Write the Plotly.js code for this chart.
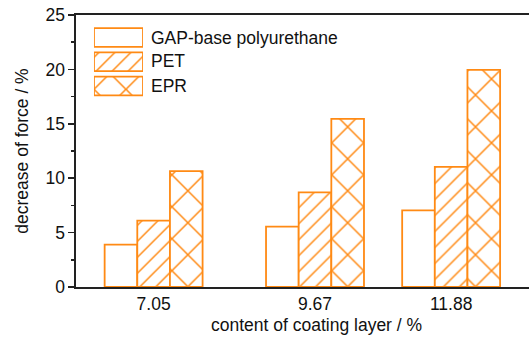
<!DOCTYPE html>
<html>
<head>
<meta charset="utf-8">
<script src="https://cdn.plot.ly/plotly-3.0.1.min.js"></script>
<style>
  html, body { margin: 0; padding: 0; background: #fff; overflow: hidden; }
  #chart { width: 529px; height: 340px; }
</style>
</head>
<body>
<div id="chart"></div>
<script>
// ---- data ----
const categories = [7.05, 9.67, 11.88];
const tickLabels = ['7.05', '9.67', '11.88'];
const seriesNames = ['GAP-base polyurethane', 'PET', 'EPR'];
const gapValues = [3.9, 5.55, 7.05];
const petValues = [6.1, 8.7, 11.05];
const eprValues = [10.65, 15.45, 19.95];
const yTickVals = [0, 5, 10, 15, 20, 25];

// ---- styling ----
const ORANGE = '#ff8a14';
const FONT = "'Liberation Sans', Arial, sans-serif";
const FS = 17.5;
const TXT = '#111111';
const seriesValues = [gapValues, petValues, eprValues];
const patternShapes = ['', '/', 'x'];
const patternSizes = [8, 11.3, 22.6];
const barW = 0.53;
const offsets = [-1.5 * barW, -0.5 * barW, 0.5 * barW];

// plot-area geometry in pixels (for paper-referenced text)
const PL = 76, PW = 453, PT = 15, PH = 272;
const px2x = px => (px - PL) / PW;
const px2y = py => (PT + PH - py) / PH;

const traces = [];
seriesNames.forEach((name, i) => {
  const marker = {
    color: '#ffffff',
    line: { color: ORANGE, width: 1.8 },
    pattern: { shape: patternShapes[i], fgcolor: ORANGE, bgcolor: '#ffffff',
               size: patternSizes[i], solidity: 0.13, fillmode: 'replace' }
  };
  // main bars
  traces.push({
    type: 'bar', name: name, x: categories, y: seriesValues[i],
    width: barW, offset: offsets[i], marker: marker,
    showlegend: false, xaxis: 'x', yaxis: 'y'
  });
  // legend swatch (drawn as a bar on a small inset axis)
  traces.push({
    type: 'bar', orientation: 'h', name: name, y: [name], x: [1],
    width: 0.78, offset: -0.39, marker: marker, base: 0,
    showlegend: false, xaxis: 'x2', yaxis: 'y2'
  });
});

const legendRowsPx = [37.5, 61.5, 86];
const legendText = seriesNames.map((n, i) => ({
  xref: 'paper', yref: 'paper', x: px2x(149), y: px2y(legendRowsPx[i]), text: n, showarrow: false,
  xanchor: 'left', yanchor: 'middle', font: { family: FONT, size: FS, color: TXT }
}));

const layout = {
  width: 529, height: 340,
  margin: { l: PL, r: 0, t: PT, b: 340 - PT - PH, pad: 0 },
  paper_bgcolor: '#ffffff', plot_bgcolor: '#ffffff',
  font: { family: FONT, size: FS, color: TXT },
  barmode: 'overlay',
  showlegend: false,
  xaxis: {
    range: [5.79, 13.144], tickvals: categories, ticktext: tickLabels,
    showline: true, linecolor: '#222', linewidth: 1.6, mirror: true,
    ticks: '', showgrid: false, zeroline: false,
    tickfont: { family: FONT, size: FS, color: TXT }
  },
  yaxis: {
    range: [0, 25], tickvals: yTickVals,
    showline: true, linecolor: '#222', linewidth: 1.6,
    ticks: 'outside', ticklen: 6, tickwidth: 1.5, tickcolor: '#222',
    minor: { dtick: 2.5, ticks: 'outside', ticklen: 3, tickwidth: 1.5, tickcolor: '#222' },
    showgrid: false, zeroline: false,
    tickfont: { family: FONT, size: FS, color: TXT },
    title: { text: 'decrease of force / %', standoff: 12, font: { family: FONT, size: FS, color: TXT } }
  },
  xaxis2: { domain: [0.0397, 0.1479], range: [0, 1], visible: false, anchor: 'y2', fixedrange: true },
  yaxis2: { domain: [0.6945, 0.9618], type: 'category', categoryorder: 'array',
            categoryarray: seriesNames.slice().reverse(), visible: false, anchor: 'x2', fixedrange: true },
  annotations: [
    { xref: 'paper', yref: 'paper', x: px2x(316), y: px2y(325), yanchor: 'middle', xanchor: 'center',
      text: 'content of coating layer / %', showarrow: false,
      font: { family: FONT, size: FS, color: TXT } }
  ].concat(legendText)
};

Plotly.newPlot('chart', traces, layout, { staticPlot: true, displayModeBar: false });
</script>
</body>
</html>
